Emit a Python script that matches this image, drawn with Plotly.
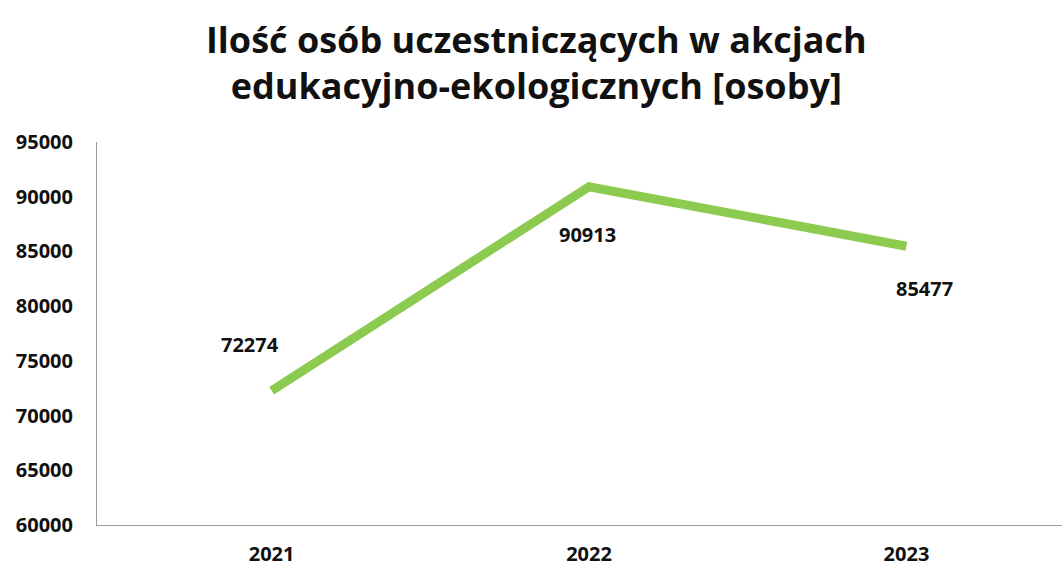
import plotly.graph_objects as go

# data
years = ["2021", "2022", "2023"]
participants = [72274, 90913, 85477]
y_ticks = [60000, 65000, 70000, 75000, 80000, 85000, 90000, 95000]

# label offsets (px) relative to each point
label_shift_x = [-22, -2, 18]
label_shift_y = [46, -48, -42]

FONT = "Open Sans, Noto Sans, sans-serif"

fig = go.Figure()

fig.add_trace(go.Scatter(
    x=years,
    y=participants,
    mode="lines",
    line=dict(color="#8CCB4F", width=9),
    hoverinfo="x+y",
    showlegend=False,
))

# category axis: annotations placed by category index
for i, (val, dx, dy) in enumerate(zip(participants, label_shift_x, label_shift_y)):
    fig.add_annotation(
        x=i, y=val, text=f"<b>{val}</b>", showarrow=False,
        xshift=dx, yshift=dy,
        font=dict(family=FONT, size=20, color="#111111"),
    )

fig.update_layout(
    title=dict(
        text="<b>Ilość osób uczestniczących w akcjach<br>edukacyjno-ekologicznych [osoby]</b>",
        x=0.505, xanchor="center", y=0.907, yanchor="top",
        font=dict(family=FONT, size=36, color="#111111"),
    ),
    width=1062,
    height=566,
    margin=dict(l=97, r=0, t=142, b=41),
    plot_bgcolor="white",
    paper_bgcolor="white",
    xaxis=dict(
        type="category",
        range=[-0.55, 2.49],
        showline=True, linecolor="#9a9a9a", linewidth=1,
        showgrid=False, ticks="", zeroline=False,
        tickvals=years, ticktext=[f"<b>{y}</b>" for y in years],
        tickfont=dict(family=FONT, size=20, color="#111111"),
        ticklabelstandoff=11,
        automargin=False,
    ),
    yaxis=dict(
        range=[60000, 95000],
        tickvals=y_ticks,
        ticktext=[f"<b>{v}</b>" for v in y_ticks],
        showline=True, linecolor="#9a9a9a", linewidth=1,
        showgrid=False, ticks="", zeroline=False,
        tickfont=dict(family=FONT, size=20, color="#111111"),
        ticklabelstandoff=19,
        automargin=False,
    ),
)

fig.write_html("out.html", config={"displayModeBar": False},
               post_script="document.body.style.margin='0px';")
